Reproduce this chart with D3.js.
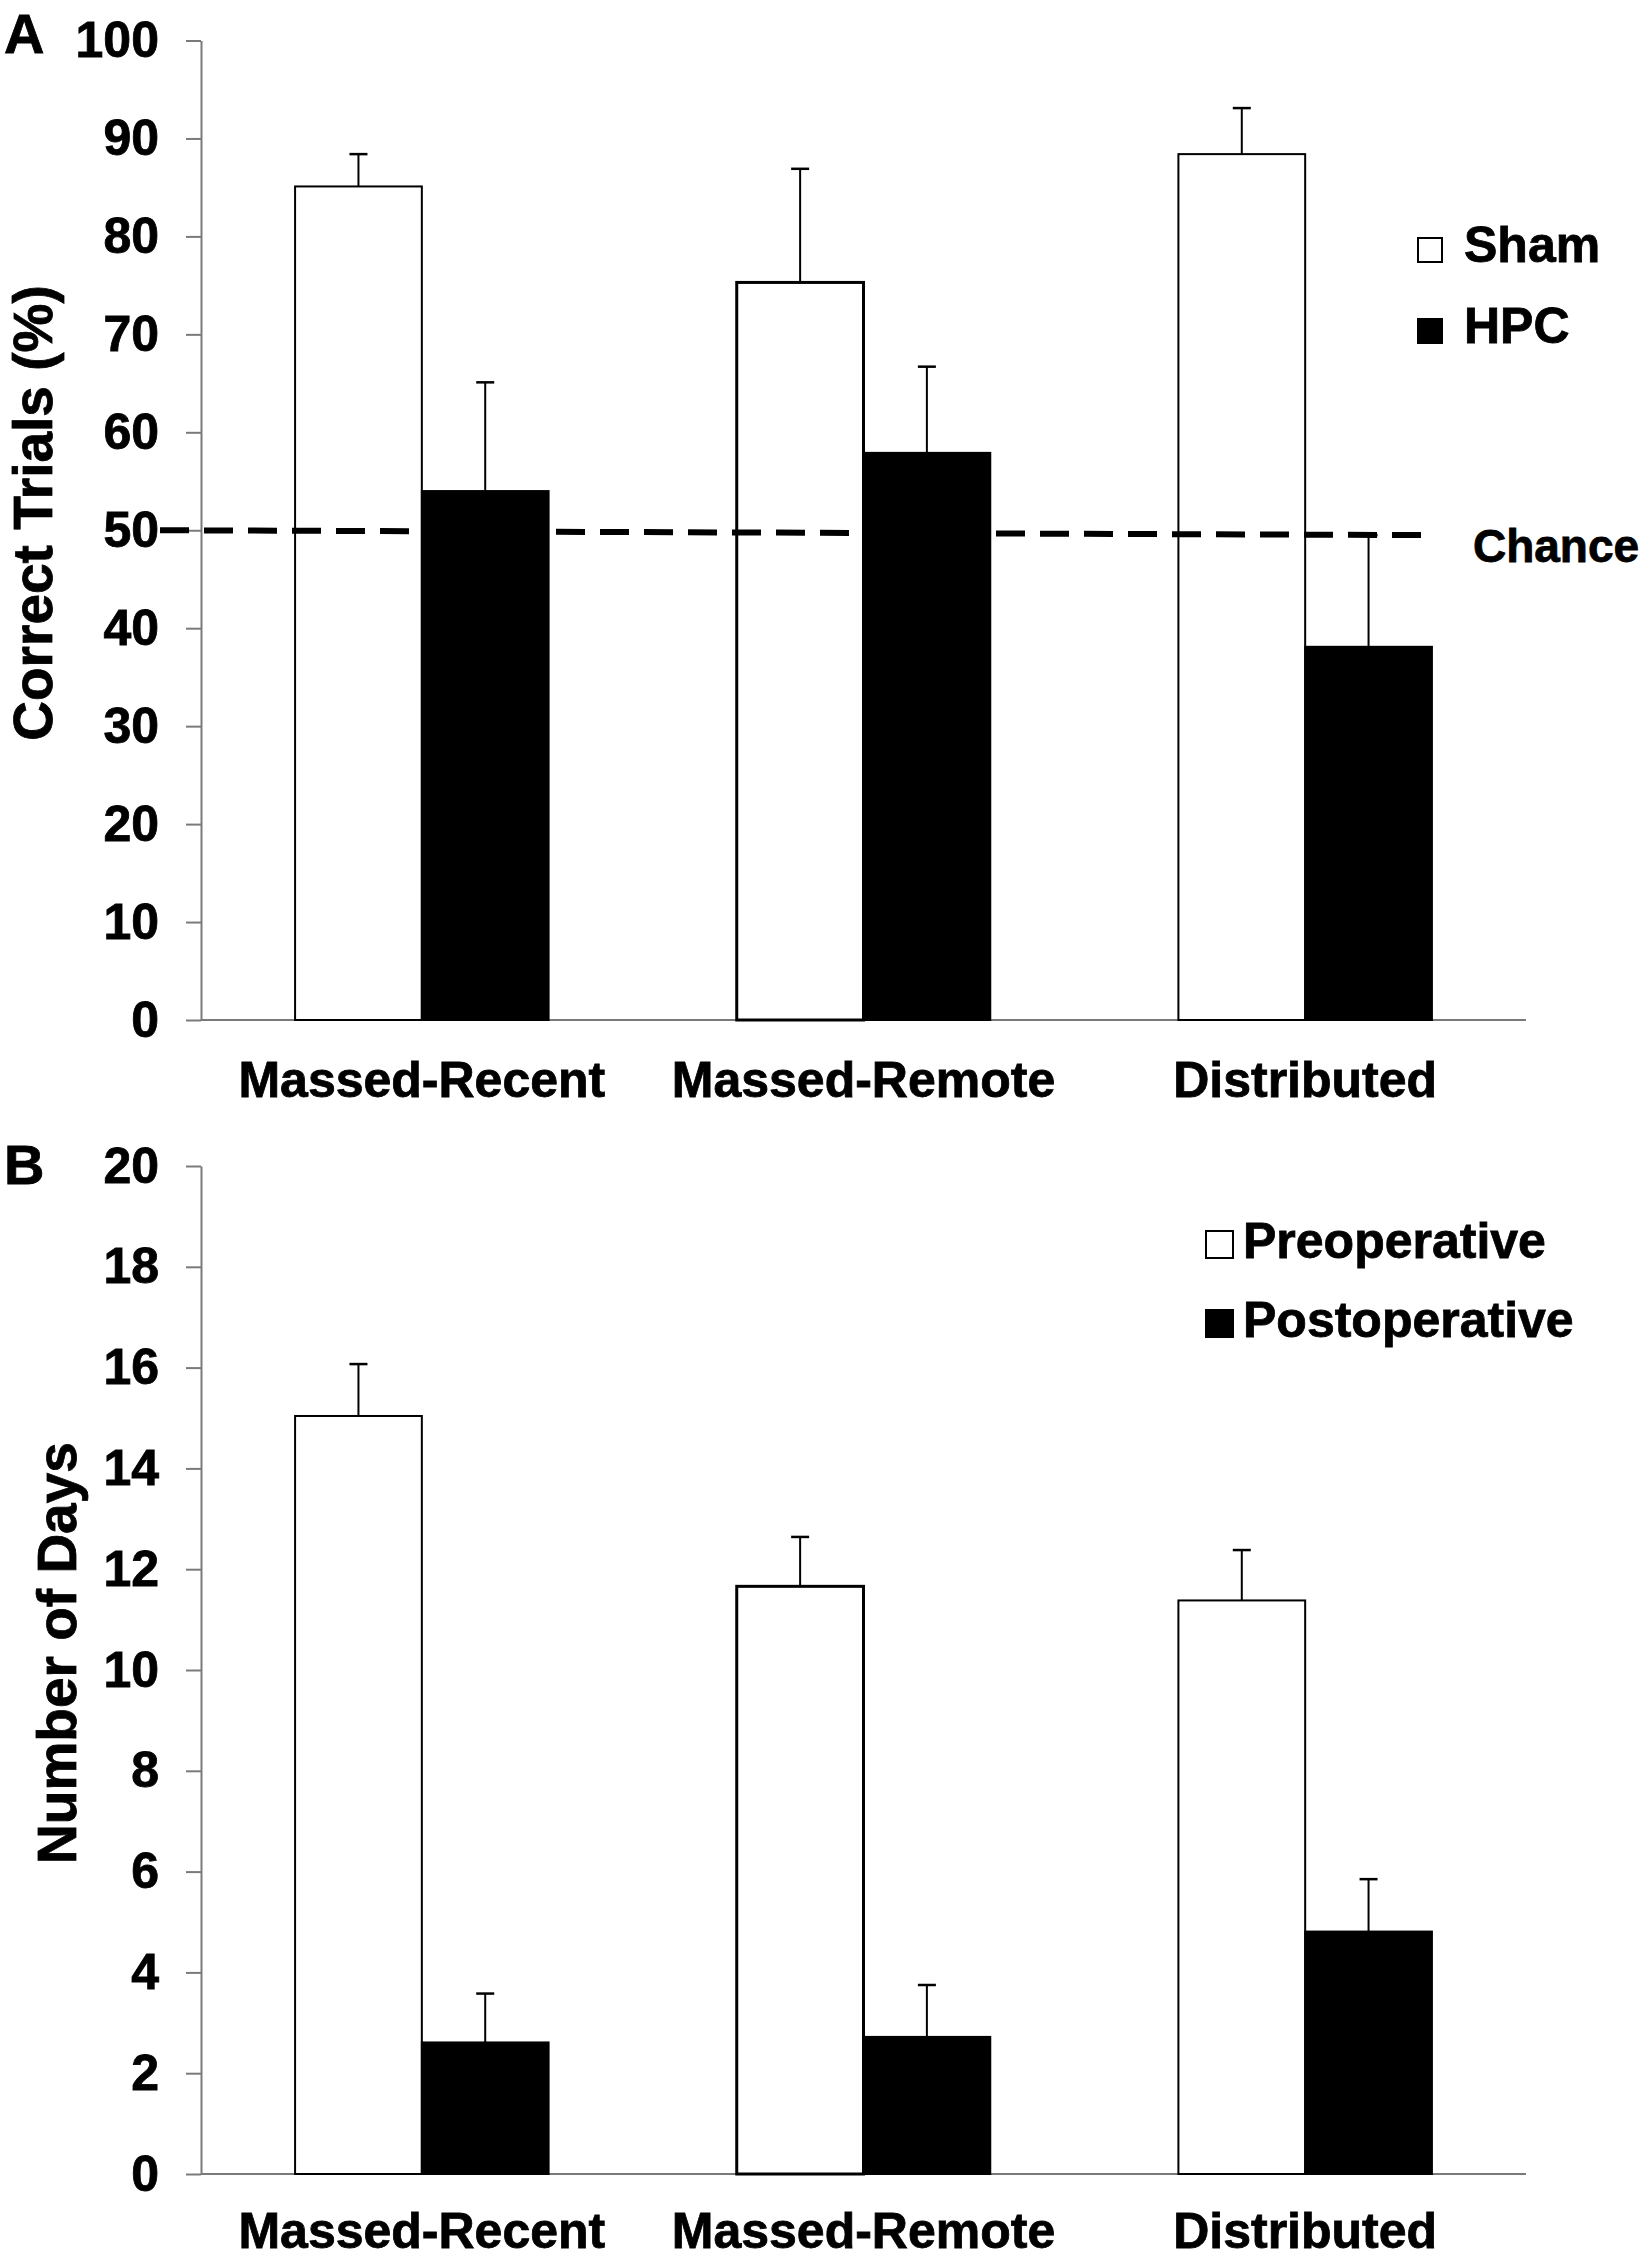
<!DOCTYPE html>
<html>
<head>
<meta charset="utf-8">
<script src="https://cdn.jsdelivr.net/npm/d3@7/dist/d3.min.js"></script>
<style>
  body { margin: 0; background: #fff; }
  svg text { font-family: "Liberation Sans", Arial, sans-serif; font-weight: bold; fill: #000; stroke: #000; stroke-width: 0.8px; }
  .axis path, .axis line { stroke: #7a7a7a; stroke-width: 2; }
</style>
</head>
<body>
<div id="chart"></div>
<script>
// categories
const groups = ["Massed-Recent", "Massed-Remote", "Distributed"];

// panel A: correct trials (%)
const shamMean = [85.1, 75.3, 88.4];
const shamErr = [3.3, 11.6, 4.7];
const hpcMean = [54.0, 57.9, 38.1];
const hpcErr = [11.1, 8.8, 11.4];
const chanceLevel = [50, 49.5];   // dashed line, left end / right end
const ticksA = [0, 10, 20, 30, 40, 50, 60, 70, 80, 90, 100];

// panel B: number of days
const preMean = [15.04, 11.66, 11.38];
const preErr = [1.03, 0.98, 1.0];
const postMean = [2.61, 2.72, 4.81];
const postErr = [0.97, 1.03, 1.04];
const ticksB = [0, 2, 4, 6, 8, 10, 12, 14, 16, 18, 20];

const W = 1650, H = 2263;

const svg = d3.select("#chart").append("svg")
    .attr("width", W)
    .attr("height", H);

// shared x layout
const x0 = d3.scaleBand()
    .domain(groups)
    .range([201, 1526])
    .paddingInner(0.426)
    .paddingOuter(0.213);

const x1 = d3.scaleBand()
    .domain(["a", "b"])
    .range([0, x0.bandwidth()]);

function drawPanel(cfg) {
    let g = svg.append("g");

    let y = d3.scaleLinear().domain(cfg.domain).range(cfg.yRange);

    // y axis
    let yAxis = g.append("g")
        .attr("class", "axis")
        .attr("transform", "translate(201,0)")
        .call(d3.axisLeft(y).tickValues(cfg.ticks).tickSize(15).tickSizeOuter(0).tickPadding(27));
    yAxis.selectAll("text").style("font-size", "50px");

    // x axis line
    g.append("line")
        .attr("x1", x0.range()[0]).attr("x2", x0.range()[1])
        .attr("y1", y(0)).attr("y2", y(0))
        .attr("stroke", "#7a7a7a").attr("stroke-width", 2);

    // bars
    let rows = [];
    groups.forEach((grp, i) => {
        rows.push({grp: grp, key: "a", v: cfg.meanA[i], e: cfg.errA[i], fill: "#fff"});
        rows.push({grp: grp, key: "b", v: cfg.meanB[i], e: cfg.errB[i], fill: "#000"});
    });

    // error bars (upper only)
    let eb = g.selectAll(".err").data(rows).enter().append("g").attr("class", "err");
    eb.append("line")
        .attr("x1", d => x0(d.grp) + x1(d.key) + x1.bandwidth() / 2)
        .attr("x2", d => x0(d.grp) + x1(d.key) + x1.bandwidth() / 2)
        .attr("y1", d => y(d.v))
        .attr("y2", d => y(d.v + d.e))
        .attr("stroke", "#000").attr("stroke-width", 2);
    eb.append("line")
        .attr("x1", d => x0(d.grp) + x1(d.key) + x1.bandwidth() / 2 - 9)
        .attr("x2", d => x0(d.grp) + x1(d.key) + x1.bandwidth() / 2 + 9)
        .attr("y1", d => y(d.v + d.e))
        .attr("y2", d => y(d.v + d.e))
        .attr("stroke", "#000").attr("stroke-width", 2.5);

    g.selectAll(".bar").data(rows).enter().append("rect")
        .attr("class", "bar")
        .attr("x", d => x0(d.grp) + x1(d.key))
        .attr("y", d => y(d.v))
        .attr("width", x1.bandwidth())
        .attr("height", d => y(0) - y(d.v))
        .attr("fill", d => d.fill)
        .attr("stroke", "#000")
        .attr("stroke-width", d => d.grp === "Massed-Remote" && d.key === "a" ? 3 : 2);

    // x labels
    g.selectAll(".xlab").data(groups).enter().append("text")
        .attr("class", "xlab")
        .attr("x", d => x0(d) + x0.bandwidth() / 2)
        .attr("y", cfg.xLabelY)
        .attr("text-anchor", "middle")
        .style("font-size", "50px")
        .text(d => d);

    // y title
    g.append("text")
        .attr("transform", "translate(" + cfg.titleX + "," + cfg.titleY + ") rotate(-90)")
        .attr("text-anchor", "middle")
        .style("font-size", cfg.titleSize + "px")
        .text(cfg.title);

    // panel letter
    g.append("text")
        .attr("x", 4).attr("y", cfg.letterY)
        .style("font-size", "56px")
        .text(cfg.letter);

    // legend
    let leg = g.selectAll(".leg").data(cfg.legend).enter().append("g")
        .attr("class", "leg")
        .attr("transform", (d, i) => "translate(" + cfg.legX + "," + (cfg.legY + i * cfg.legStep) + ")");
    leg.append("rect")
        .attr("x", 0).attr("y", -cfg.legBox)
        .attr("width", cfg.legBox).attr("height", cfg.legBox)
        .attr("fill", d => d.fill).attr("stroke", "#000").attr("stroke-width", 2);
    leg.append("text")
        .attr("x", cfg.legBox + cfg.legGap).attr("y", 0)
        .style("font-size", cfg.legSize + "px")
        .text(d => d.name);

    return {g: g, y: y};
}

// Panel A
let pA = drawPanel({
    domain: [0, 100], yRange: [1020, 40.5], ticks: ticksA,
    meanA: shamMean, errA: shamErr, meanB: hpcMean, errB: hpcErr,
    xLabelY: 1097, title: "Correct Trials (%)", titleX: 52, titleY: 513, titleSize: 55,
    letter: "A", letterY: 53,
    legend: [{name: "Sham", fill: "#fff"}, {name: "HPC", fill: "#000"}],
    legX: 1418, legY: 262, legStep: 81, legBox: 24, legGap: 22, legSize: 50
});

// chance line, drawn over the bars
let lastBar = x0(groups[2]) + x0.bandwidth();
pA.g.append("line")
    .attr("x1", 160).attr("x2", lastBar + 2)
    .attr("y1", pA.y(chanceLevel[0])).attr("y2", pA.y(chanceLevel[1]))
    .attr("stroke", "#000").attr("stroke-width", 6)
    .attr("stroke-dasharray", "29,15");
pA.g.append("text")
    .attr("x", lastBar + 41).attr("y", pA.y(chanceLevel[1]) + 27)
    .style("font-size", "46px")
    .text("Chance");

// Panel B
drawPanel({
    domain: [0, 20], yRange: [2174, 1166], ticks: ticksB,
    meanA: preMean, errA: preErr, meanB: postMean, errB: postErr,
    xLabelY: 2248, title: "Number of Days", titleX: 76, titleY: 1653, titleSize: 55,
    letter: "B", letterY: 1184,
    legend: [{name: "Preoperative", fill: "#fff"}, {name: "Postoperative", fill: "#000"}],
    legX: 1206, legY: 1258, legStep: 79, legBox: 27, legGap: 10, legSize: 50
});
</script>
</body>
</html>
